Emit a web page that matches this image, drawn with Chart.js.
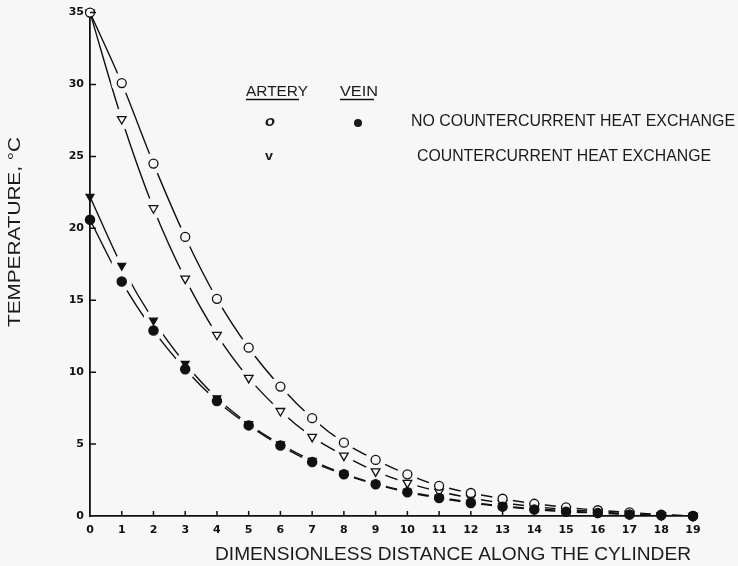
<!DOCTYPE html>
<html><head><meta charset="utf-8">
<script src="https://cdn.jsdelivr.net/npm/chart.js@4"></script>
<style>html,body{margin:0;padding:0;background:#f7f7f7}canvas{display:block}</style>
</head><body>
<canvas id="c" width="738" height="566"></canvas>
<script>
// ---- data ----
const distance = [0,1,2,3,4,5,6,7,8,9,10,11,12,13,14,15,16,17,18,19];
const yTickValues = [0,5,10,15,20,25,30,35];
const arteryNoExchange = [35,30.1,24.5,19.4,15.1,11.7,9.0,6.8,5.1,3.9,2.9,2.1,1.6,1.2,0.85,0.6,0.4,0.25,0.1,0.0];
const arteryExchange   = [35,27.6,21.4,16.5,12.6,9.6,7.3,5.5,4.2,3.1,2.3,1.7,1.25,0.9,0.65,0.45,0.3,0.15,0.05,0.0];
const veinNoExchange   = [20.6,16.3,12.9,10.2,8.0,6.3,4.9,3.75,2.9,2.2,1.65,1.25,0.9,0.65,0.45,0.3,0.2,0.1,0.05,0.0];
const veinExchange     = [22.2,17.4,13.6,10.6,8.2,6.4,5.0,3.85,2.95,2.25,1.7,1.3,0.95,0.7,0.5,0.35,0.22,0.12,0.05,0.0];
const xTitle = 'DIMENSIONLESS DISTANCE ALONG THE CYLINDER';
const yTitle = 'TEMPERATURE, °C';
const legendHeads = ['ARTERY','VEIN'];
const legendRows = ['NO COUNTERCURRENT HEAT EXCHANGE','COUNTERCURRENT HEAT EXCHANGE'];

const BG = '#f7f7f7';
const INK = '#111';
const pts = arr => distance.map((x,i)=>({x, y: arr[i]}));

const series = [
  {data: arteryNoExchange, style:'circle', fill:BG, r:4.5, rot:0, mo:2},
  {data: arteryExchange, style:'triangle', fill:BG, r:5, rot:180, mo:2},
  {data: veinNoExchange, style:'circle', fill:INK, r:4.6, rot:0, mo:1},
  {data: veinExchange, style:'triangle', fill:INK, r:4.5, rot:180, mo:1},
];
const datasets = [];
series.forEach(s => {
  datasets.push({data: pts(s.data), borderColor: INK, borderWidth: 1.4, pointRadius: 0,
    cubicInterpolationMode: 'monotone', fill: false, order: 3, role: 'line'});
});
series.forEach(s => {
  datasets.push({data: pts(s.data), showLine: false, pointStyle: s.style, rotation: s.rot, clip: false,
    pointRadius: s.r, pointBackgroundColor: s.fill, pointBorderColor: INK, pointBorderWidth: 1.3,
    order: s.mo, role: 'marker'});
});

function fitText(ctx, text, x, y, width, font) {
  ctx.save();
  ctx.font = font;
  ctx.letterSpacing = '0px';
  ctx.textBaseline = 'middle';
  ctx.textAlign = 'left';
  const w = ctx.measureText(text).width;
  ctx.translate(x, y);
  ctx.scale(width / w, 1);
  ctx.fillText(text, 0, 0);
  ctx.restore();
}

let halosDone = false;
const decor = {
  id: 'decor',
  beforeDraw(chart) {
    const ctx = chart.ctx;
    ctx.save();
    ctx.fillStyle = BG;
    ctx.fillRect(0, 0, chart.width, chart.height);
    ctx.restore();
    halosDone = false;
  },
  beforeDatasetDraw(chart, args) {
    // break the curves around every marker (gaps like the original drawing)
    if (halosDone || chart.data.datasets[args.index].role !== 'marker') return;
    halosDone = true;
    const ctx = chart.ctx;
    const a = chart.chartArea;
    ctx.save();
    ctx.beginPath();
    ctx.rect(a.left + 1.5, a.top - 20, a.right - a.left + 20, a.bottom - a.top + 20 - 1.5);
    ctx.clip();
    ctx.fillStyle = BG;
    chart.data.datasets.forEach((ds, di) => {
      if (ds.role !== 'marker') return;
      chart.getDatasetMeta(di).data.forEach((el, i) => {
        if (i === 0) return;
        ctx.beginPath();
        ctx.arc(el.x, el.y, 10.5, 0, Math.PI * 2);
        ctx.fill();
      });
    });
    ctx.restore();
  },
  afterDraw(chart) {
    const ctx = chart.ctx;
    const xs = chart.scales.x, ys = chart.scales.y;
    ctx.save();
    ctx.strokeStyle = INK;
    ctx.lineWidth = 1.5;
    // inward ticks
    ctx.beginPath();
    distance.forEach(v => {
      if (v === 0) return;
      const px = xs.getPixelForValue(v);
      ctx.moveTo(px, xs.top); ctx.lineTo(px, xs.top - 5);
    });
    yTickValues.forEach(v => {
      if (v === 0) return;
      const py = ys.getPixelForValue(v);
      ctx.moveTo(ys.right, py); ctx.lineTo(ys.right + 6, py);
    });
    ctx.stroke();
    ctx.fillStyle = '#1a1a1a';
    // axis titles
    fitText(ctx, xTitle, 215, 555, 476, '18px "Liberation Sans", Arial, sans-serif');
    ctx.save();
    ctx.translate(15, 327);
    ctx.rotate(-Math.PI / 2);
    fitText(ctx, yTitle, 0, 0, 190, '17px "Liberation Sans", Arial, sans-serif');
    ctx.restore();
    // legend
    fitText(ctx, legendHeads[0], 246, 92, 62, '14px "Liberation Sans", Arial, sans-serif');
    fitText(ctx, legendHeads[1], 340, 92, 38, '14px "Liberation Sans", Arial, sans-serif');
    ctx.lineWidth = 1.5;
    ctx.beginPath();
    ctx.moveTo(246, 99.5); ctx.lineTo(299, 99.5);
    ctx.moveTo(340, 99.5); ctx.lineTo(374, 99.5);
    ctx.stroke();
    fitText(ctx, 'o', 265, 122, 10, 'italic bold 14px "Liberation Sans", Arial, sans-serif');
    ctx.beginPath();
    ctx.arc(358, 123, 4, 0, Math.PI * 2);
    ctx.fill();
    fitText(ctx, legendRows[0], 411, 122, 324, '16px "Liberation Sans", Arial, sans-serif');
    fitText(ctx, 'v', 265, 156, 8, 'bold 13px "Liberation Sans", Arial, sans-serif');
    fitText(ctx, legendRows[1], 417, 157, 294, '16px "Liberation Sans", Arial, sans-serif');
    ctx.restore();
  }
};

new Chart(document.getElementById('c'), {
  type: 'line',
  data: {datasets},
  options: {
    responsive: false,
    animation: false,
    devicePixelRatio: 1,
    layout: {padding: {left: 0, top: 12, right: 45, bottom: 0}},
    plugins: {legend: {display: false}, tooltip: {enabled: false}},
    elements: {point: {hitRadius: 0}},
    scales: {
      x: {
        type: 'linear', min: 0, max: 19,
        grid: {display: false, drawTicks: false},
        border: {display: true, color: INK, width: 1.8},
        ticks: {stepSize: 1, autoSkip: false, color: '#111', padding: 8,
          font: {family: '"DejaVu Sans", Arial, sans-serif', size: 11, weight: 'bold'}},
        afterFit: s => { s.height = 50; }
      },
      y: {
        type: 'linear', min: 0, max: 35,
        grid: {display: false, drawTicks: false},
        border: {display: true, color: INK, width: 1.8},
        ticks: {stepSize: 5, color: '#111', padding: 6,
          font: {family: '"DejaVu Sans", Arial, sans-serif', size: 11, weight: 'bold'}},
        afterFit: s => { s.width = 90; }
      }
    }
  },
  plugins: [decor]
});
</script>
</body></html>
